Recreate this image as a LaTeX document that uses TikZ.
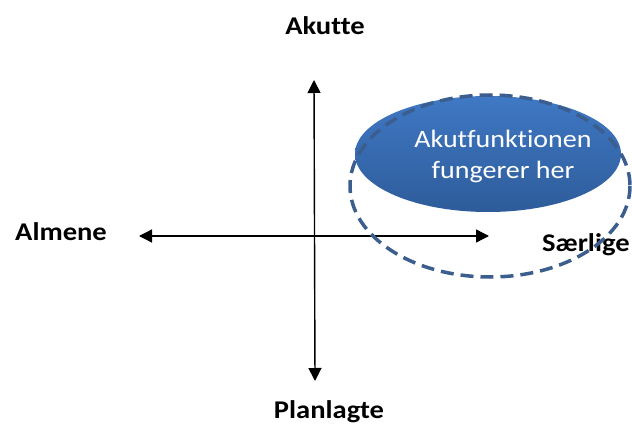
\documentclass[tikz,border=0pt]{standalone}
\usepackage{fontspec}
\setmainfont{Carlito}[Ligatures=NoCommon, FakeStretch=1.12]
\usetikzlibrary{arrows.meta, shadings}

\definecolor{akutblue}{HTML}{3F78C4}
\definecolor{akutdark}{HTML}{2E5C9A}
\definecolor{dashblue}{HTML}{3B5E8E}

\tikzset{
  axis/.style={{Triangle[length=13pt,width=13pt]}-{Triangle[length=13pt,width=13pt]}, line width=1.4pt},
  pole/.style={font=\bfseries\fontsize{25.5}{30}\selectfont, inner sep=0pt},
}

\begin{document}
\begin{tikzpicture}[x=1pt, y=-1pt]
  \useasboundingbox (0,0) rectangle (632,425);
  % axes
  \coordinate (top) at (314,80);
  \coordinate (bottom) at (315,381);
  \coordinate (left) at (139,236);
  \coordinate (right) at (489,236);
  \draw[axis] (top) -- (bottom);
  \draw[axis] (left) -- (right);
  % labels
  \node[pole, anchor=base] (akutte) at (325,35) {Akutte};
  \node[pole, anchor=base west] (almene) at (15,240) {Almene};
  \node[pole, anchor=base west] (saerlige) at (542,251) {Særlige};
  \node[pole, anchor=base] (planlagte) at (329,418) {Planlagte};
  % area
  \shade[top color=akutblue, bottom color=akutdark] (488,154) ellipse [x radius=133, y radius=58];
  \node[text=white, align=center, font=\fontsize{25}{31}\selectfont] (akut) at (503,156) {Akutfunktionen\\fungerer her};
  \draw[dashblue, line width=3.5pt, dash pattern=on 13pt off 7pt] (490,186) ellipse [x radius=140, y radius=91];
\end{tikzpicture}
\end{document}
